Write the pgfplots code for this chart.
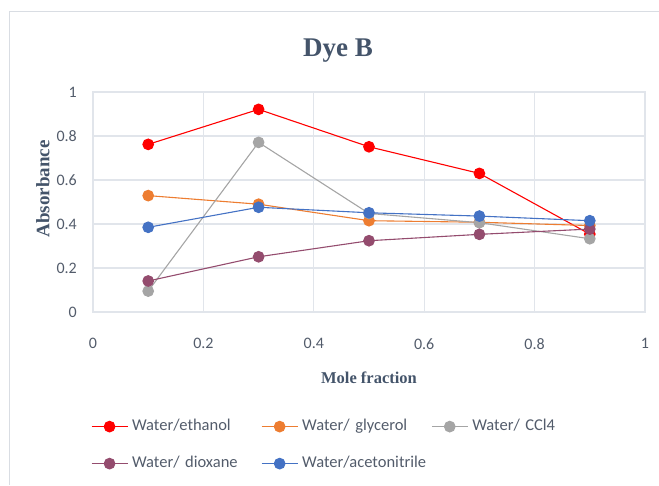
\documentclass[border=0pt]{standalone}
\usepackage{pgfplots}
\pgfplotsset{compat=1.18}
\usepackage{fontspec}
\setmainfont{Carlito}
\newfontfamily\timesf{Liberation Serif}
\definecolor{cEth}{HTML}{FF0000}
\definecolor{cGly}{HTML}{ED7D31}
\definecolor{cCcl}{HTML}{A5A5A5}
\definecolor{cDio}{HTML}{944C6E}
\definecolor{cAcn}{HTML}{4472C4}
\definecolor{gridcol}{HTML}{E1E5EB}
\definecolor{framecol}{HTML}{D9DDE3}
\definecolor{titlecol}{HTML}{44546A}
\definecolor{labcol}{HTML}{535C6B}
\begin{document}
\begin{tikzpicture}[x=1pt,y=1pt]
\useasboundingbox (0,0) rectangle (659,485);
\draw[framecol, line width=1pt] (9,0) -- (9,473) -- (659,473);
\node[anchor=base, font=\timesf\bfseries\fontsize{27}{30}\selectfont, text=titlecol, inner sep=0pt] at (338,428) {Dye B};
\begin{axis}[
  at={(93pt,173pt)}, anchor=south west,
  scale only axis, width=552pt, height=220pt,
  xmin=0, xmax=1, ymin=0, ymax=1,
  xtick={0,0.2,0.4,0.6,0.8,1}, ytick={0,0.2,0.4,0.6,0.8,1},
  grid=major, major grid style={draw=gridcol, line width=1.1pt},
  axis line style={draw=gridcol, line width=1.1pt},
  major tick length=0pt,
  /pgf/number format/assume math mode=true,
  ticklabel style={font=\fontsize{16}{18}\selectfont, text=labcol},
  xticklabel style={inner sep=0pt, anchor=north, yshift=-26pt},
  yticklabel style={inner sep=0pt, anchor=east, xshift=-16pt},
  xlabel={Mole fraction},
  ylabel={Absorbance},
  xlabel style={font=\timesf\bfseries\fontsize{16.5}{18}\selectfont, text=titlecol, at={(axis description cs:0.5,-0.298)}, anchor=center},
  ylabel style={font=\timesf\bfseries\fontsize{19}{21}\selectfont, text=titlecol, at={(axis description cs:-0.0906,0.559)}, anchor=center},
  every axis plot/.append style={line width=1.1pt, mark=*, mark size=5.3pt},
  legend columns=3,
  legend image code/.code={\draw[mark repeat=2, mark phase=2, #1] plot coordinates {(0pt,0pt) (18pt,0pt) (36pt,0pt)}; \path (0pt,0pt) (40pt,0pt);},
  legend style={at={(axis description cs:-0.0036,-0.488)}, anchor=north west, draw=none, fill=none,
    font=\fontsize{16.5}{18}\selectfont, text=labcol, inner sep=0pt, outer sep=0pt,
    column sep=0pt, row sep=22.5pt,
    nodes={inner sep=0pt, text height=11pt, text depth=3.5pt},
    /tikz/every even column/.append style={text width=129pt}},
  legend cell align=left,
]
\addplot[color=cEth, mark options={fill=cEth, draw=cEth}] coordinates {(0.1,0.762)(0.3,0.921)(0.5,0.751)(0.7,0.630)(0.9,0.354)};
\addlegendentry{Water/ethanol}
\addplot[color=cGly, mark options={fill=cGly, draw=cGly}] coordinates {(0.1,0.529)(0.3,0.490)(0.5,0.415)(0.7,0.408)(0.9,0.393)};
\addlegendentry{Water/ glycerol}
\addplot[color=cCcl, mark options={fill=cCcl, draw=cCcl}] coordinates {(0.1,0.095)(0.3,0.771)(0.5,0.448)(0.7,0.406)(0.9,0.333)};
\addlegendentry{Water/ CCl4}
\addplot[color=cDio, mark options={fill=cDio, draw=cDio}] coordinates {(0.1,0.141)(0.3,0.251)(0.5,0.324)(0.7,0.353)(0.9,0.377)};
\addlegendentry{Water/ dioxane}
\addplot[color=cAcn, mark options={fill=cAcn, draw=cAcn}] coordinates {(0.1,0.385)(0.3,0.476)(0.5,0.451)(0.7,0.436)(0.9,0.415)};
\addlegendentry{Water/acetonitrile}
\end{axis}
\end{tikzpicture}
\end{document}
